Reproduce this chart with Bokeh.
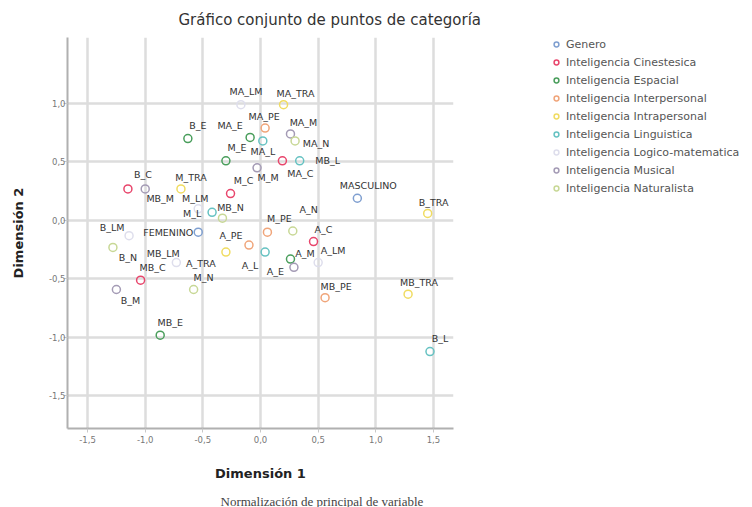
from bokeh.plotting import figure
from bokeh.models import ColumnDataSource, FixedTicker, Legend, LegendItem, Range1d, Title
from bokeh.core.properties import value
from bokeh.embed import file_html
from bokeh.resources import INLINE

# ---------------- data ----------------
series_names = ["Genero", "Inteligencia Cinestesica", "Inteligencia Espacial",
                "Inteligencia Interpersonal", "Inteligencia Intrapersonal",
                "Inteligencia Linguistica", "Inteligencia Logico-matematica",
                "Inteligencia Musical", "Inteligencia Naturalista"]

genero_lab = ["FEMENINO", "MASCULINO"]
genero_x = [-0.54, 0.84]
genero_y = [-0.10, 0.19]

cin_lab = ["B_C", "MB_C", "M_C", "MA_C", "A_C"]
cin_x = [-1.15, -1.04, -0.26, 0.19, 0.46]
cin_y = [0.27, -0.51, 0.23, 0.51, -0.18]

esp_lab = ["B_E", "MB_E", "M_E", "MA_E", "A_E"]
esp_x = [-0.63, -0.87, -0.30, -0.09, 0.26]
esp_y = [0.70, -0.98, 0.51, 0.71, -0.33]

inter_lab = ["MB_PE", "M_PE", "MA_PE", "A_PE"]
inter_x = [0.56, 0.06, 0.04, -0.10]
inter_y = [-0.66, -0.10, 0.79, -0.21]

intra_lab = ["B_TRA", "MB_TRA", "M_TRA", "MA_TRA", "A_TRA"]
intra_x = [1.45, 1.28, -0.69, 0.20, -0.30]
intra_y = [0.06, -0.63, 0.27, 0.99, -0.27]

ling_lab = ["B_L", "MB_L", "M_L", "MA_L", "A_L"]
ling_x = [1.47, 0.34, -0.42, 0.02, 0.04]
ling_y = [-1.12, 0.51, 0.07, 0.68, -0.27]

logm_lab = ["B_LM", "MB_LM", "M_LM", "MA_LM", "A_LM"]
logm_x = [-1.14, -0.73, -0.54, -0.17, 0.50]
logm_y = [-0.13, -0.36, 0.10, 0.99, -0.36]

mus_lab = ["B_M", "MB_M", "M_M", "MA_M", "A_M"]
mus_x = [-1.25, -1.00, -0.03, 0.26, 0.29]
mus_y = [-0.59, 0.27, 0.45, 0.74, -0.40]

nat_lab = ["B_N", "MB_N", "M_N", "MA_N", "A_N"]
nat_x = [-1.28, -0.33, -0.58, 0.30, 0.28]
nat_y = [-0.23, 0.02, -0.59, 0.68, -0.09]

x_ticks = [-1.5, -1.0, -0.5, 0.0, 0.5, 1.0, 1.5]
y_ticks = [-1.5, -1.0, -0.5, 0.0, 0.5, 1.0]
x_tick_text = ["-1,5", "-1,0", "-0,5", "0,0", "0,5", "1,0", "1,5"]
y_tick_text = ["-1,5", "-1,0", "-0,5", "0,0", "0,5", "1,0"]

title_text = "Gráfico conjunto de puntos de categoría"
x_title = "Dimensión 1"
y_title = "Dimensión 2"
note_text = "Normalización de principal de variable"

# ---------------- styling ----------------
colors = ["#7f9fd0", "#e8466c", "#4a9e5c", "#f0a57a", "#f0dc62",
          "#66c2c2", "#dedeec", "#a49bb5", "#c8d896"]

# label placement (screen px, label centre relative to point; +dy = down)
label_offsets = {
    "FEMENINO": (-30, 0), "MASCULINO": (11, -13),
    "B_C": (15, -14), "MB_C": (12, -13), "M_C": (13, -13), "MA_C": (18, 13), "A_C": (10, -12),
    "B_E": (10, -13), "MB_E": (10, -13), "M_E": (11, -13), "MA_E": (-20, -12), "A_E": (-15, 12),
    "MB_PE": (11, -11), "M_PE": (12, -14), "MA_PE": (-1, -12), "A_PE": (-18, -10),
    "B_TRA": (6, -11), "MB_TRA": (11, -12), "M_TRA": (10, -11), "MA_TRA": (12, -11), "A_TRA": (-25, 11),
    "B_L": (10, -13), "MB_L": (28, 0), "M_L": (-20, 1), "MA_L": (0, 11), "A_L": (-15, 13),
    "B_LM": (-17, -8), "MB_LM": (-13, -9), "M_LM": (-3, -10), "MA_LM": (5, -13), "A_LM": (15, -12),
    "B_M": (14, 11), "MB_M": (15, 10), "M_M": (11, 10), "MA_M": (13, -11), "A_M": (11, -14),
    "B_N": (15, 10), "MB_N": (8, -11), "M_N": (10, -12), "MA_N": (21, 3), "A_N": (16, -22),
}

series = [
    (genero_lab, genero_x, genero_y),
    (cin_lab, cin_x, cin_y),
    (esp_lab, esp_x, esp_y),
    (inter_lab, inter_x, inter_y),
    (intra_lab, intra_x, intra_y),
    (ling_lab, ling_x, ling_y),
    (logm_lab, logm_x, logm_y),
    (mus_lab, mus_x, mus_y),
    (nat_lab, nat_x, nat_y),
]

p = figure(output_backend="svg", toolbar_location=None,
           frame_width=386, frame_height=391,
           min_border_left=67, min_border_right=299,
           min_border_top=37, min_border_bottom=79,
           x_range=Range1d(-1.674, 1.674), y_range=Range1d(-1.778, 1.564))
p.outline_line_color = None
p.background_fill_color = "white"
p.border_fill_color = "white"

p.title.text = title_text
p.title.align = "left"
p.title.offset = 111
p.title.vertical_align = "middle"
p.title.text_font = "DejaVu Sans"
p.title.text_font_size = "15px"
p.title.text_font_style = "normal"
p.title.text_color = "#333333"
p.title.standoff = 16

for ax, ticks, txt in ((p.xaxis[0], x_ticks, x_tick_text), (p.yaxis[0], y_ticks, y_tick_text)):
    ax.ticker = FixedTicker(ticks=ticks)
    ax.major_label_overrides = {t: s for t, s in zip(ticks, txt)}
    ax.axis_line_color = "#b0b0b0"
    ax.axis_line_width = 2
    ax.major_tick_line_color = "#c8c8c8"
    ax.major_tick_in = 0
    ax.major_tick_out = 4
    ax.minor_tick_line_color = None
    ax.major_label_text_font = "DejaVu Sans"
    ax.major_label_text_font_size = "8.5px"
    ax.major_label_text_color = "#777777"
    ax.major_label_standoff = 3
    ax.axis_label_text_font = "DejaVu Sans"
    ax.axis_label_text_font_size = "13px"
    ax.axis_label_text_font_style = "bold"
    ax.axis_label_text_color = "#222222"

p.xaxis[0].axis_label = x_title
p.xaxis[0].axis_label_standoff = 20
p.yaxis[0].axis_label = y_title
p.yaxis[0].axis_label_standoff = 20
p.yaxis[0].major_label_standoff = -2

for g in (p.xgrid[0], p.ygrid[0]):
    g.grid_line_color = "#dddddd"
    g.grid_line_width = 2.5

items = []
all_lab, all_x, all_y, all_dx, all_dy = [], [], [], [], []
for name, col, (labs, xs, ys) in zip(series_names, colors, series):
    src = ColumnDataSource(dict(x=xs, y=ys))
    r = p.scatter("x", "y", source=src, marker="circle", size=8,
                  fill_alpha=0, line_color=col, line_width=1.5)
    items.append(LegendItem(label=name, renderers=[r]))
    for l, x, y in zip(labs, xs, ys):
        dx, dy = label_offsets.get(l, (10, -12))
        all_lab.append(l); all_x.append(x); all_y.append(y)
        all_dx.append(dx); all_dy.append(dy)

lsrc = ColumnDataSource(dict(x=all_x, y=all_y, t=all_lab, dx=all_dx, dy=all_dy))
p.text("x", "y", text="t", source=lsrc, x_offset="dx", y_offset="dy",
       text_align="center", text_baseline="middle",
       text_font=value("DejaVu Sans"), text_font_size="9.5px", text_color="#333333")

legend = Legend(items=items, location=(97, 231))
legend.background_fill_alpha = 0
legend.border_line_alpha = 0
legend.padding = 0
legend.margin = 0
legend.spacing = 0
legend.glyph_width = 12
legend.glyph_height = 18
legend.label_height = 18
legend.label_standoff = 4
legend.label_text_font = "DejaVu Sans"
legend.label_text_font_size = "11px"
legend.label_text_color = "#555555"
p.add_layout(legend, "right")

note = Title(text=note_text, align="left", offset=153,
             text_font="Liberation Serif", text_font_size="13px",
             text_font_style="normal", text_color="#444444", standoff=16)
p.add_layout(note, "below")

open("out.html", "w").write(file_html(p, INLINE))
